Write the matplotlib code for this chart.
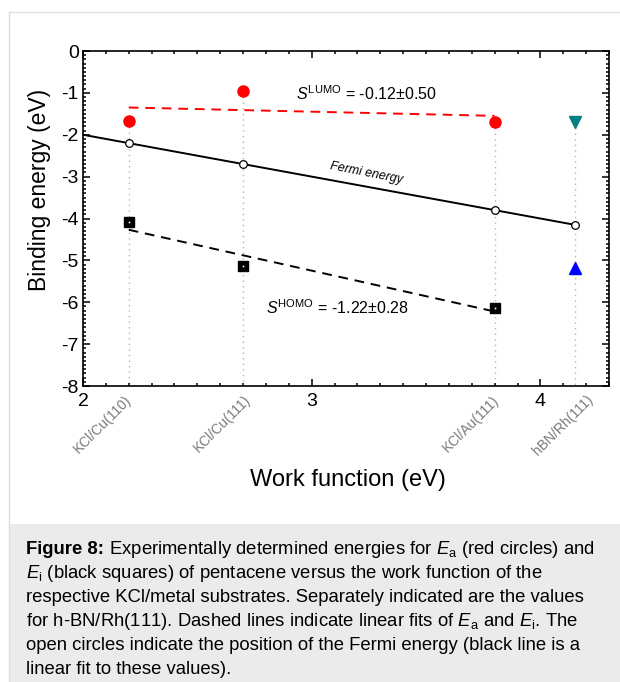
import numpy as np
import matplotlib.pyplot as plt
from matplotlib.patches import Rectangle
from matplotlib.lines import Line2D
from matplotlib.ticker import MultipleLocator
import matplotlib.transforms as mtransforms

plt.rcParams['font.family'] = ['Liberation Sans', 'DejaVu Sans']
plt.rcParams['mathtext.fontset'] = 'custom'
plt.rcParams['mathtext.rm'] = 'Liberation Sans'
plt.rcParams['mathtext.it'] = 'Liberation Sans:italic'
plt.rcParams['mathtext.bf'] = 'Liberation Sans:bold'
plt.rcParams['axes.unicode_minus'] = False

# substrates and their work functions (eV)
substrates = ["KCl/Cu(110)", "KCl/Cu(111)", "KCl/Au(111)", "hBN/Rh(111)"]
work_function = [2.20, 2.70, 3.80, 4.15]
fermi = [-2.20, -2.70, -3.80, -4.15]

# pentacene on KCl/metal
kcl_wf = [2.20, 2.70, 3.80]
e_a = [-1.66, -0.96, -1.69]
e_i = [-4.09, -5.14, -6.14]

# h-BN/Rh(111)
hbn_wf = [4.15]
hbn_ea = [-1.70]
hbn_ei = [-5.19]

caption_head = "Figure 8:"
caption = [
    r" Experimentally determined energies for $E_\mathrm{a}$ (red circles) and",
    r"$E_\mathrm{i}$ (black squares) of pentacene versus the work function of the",
    r"respective KCl/metal substrates. Separately indicated are the values",
    r"for h-BN/Rh(111). Dashed lines indicate linear fits of $E_\mathrm{a}$ and $E_\mathrm{i}$. The",
    r"open circles indicate the position of the Fermi energy (black line is a",
    r"linear fit to these values).",
]

W, H = 620, 682
fig = plt.figure(figsize=(6.2, 6.82), dpi=100)
ax = fig.add_axes([83 / W, 1 - 386 / H, (609 - 83) / W, (386 - 51) / H])

# frame / caption box
fig.add_artist(Line2D([8.5 / W, 8.5 / W], [0, 1 - 12 / H], color='#dddddd', lw=1))
fig.add_artist(Line2D([8.5 / W, 1], [1 - 12 / H, 1 - 12 / H], color='#dddddd', lw=1))
fig.add_artist(Rectangle((9 / W, 0), 1, (H - 524) / H, facecolor='#ebebeb',
                         edgecolor='none', zorder=-1))

# dotted guides from the top marker down to the axis
tops = [max(a, f) for a, f in zip(e_a, fermi[:3])] + [hbn_ea[0]]
for x, t in zip(work_function, tops):
    ax.plot([x, x], [t, -8], ls=(0, (1, 3)), color='#b5b5b5', lw=1, zorder=1)

# fits
xf = np.array([kcl_wf[0], kcl_wf[-1]])
pa = np.polyfit(kcl_wf, e_a, 1)
pi = np.polyfit(kcl_wf, e_i, 1)
pf = np.polyfit(work_function, fermi, 1)
ax.plot(xf, np.polyval(pa, xf), ls=(0, (5, 3.5)), color='#ff0000', lw=1.4, zorder=2)
ax.plot(xf, np.polyval(pi, xf), ls=(0, (5, 3.5)), color='black', lw=1.4, zorder=2)
xfe = np.array([2.0, work_function[-1]])
ax.plot(xfe, np.polyval(pf, xfe), color='black', lw=1.4, zorder=2)

ax.plot(kcl_wf, e_a, 'o', ms=8, color='#ff0000', mec='#ff0000', zorder=3)
ax.plot(kcl_wf, e_i, 's', ms=6.5, color='black', zorder=3)
ax.plot(kcl_wf, e_i, 's', ms=1.2, color='white', mew=0, zorder=4)
ax.plot(work_function, fermi, 'o', ms=5.5, mfc='white', mec='black', mew=0.9, zorder=3)
ax.plot(hbn_wf, hbn_ea, 'v', ms=8, color='#008080', zorder=3)
ax.plot(hbn_wf, hbn_ei, '^', ms=8, color='#0000ff', zorder=3)

ax.text(2.93, -1.18, r"$S^{\mathrm{LUMO}}$ = -0.12$\pm$0.50", fontsize=11.5, va='baseline')
ax.text(2.80, -6.28, r"$S^{\mathrm{HOMO}}$ = -1.22$\pm$0.28", fontsize=11.5, va='baseline')
ax.text(3.24, -2.92, "Fermi energy", fontsize=9, style='italic', rotation=-11,
        ha='center', va='center')

ax.set_xlim(2, 4.3)
ax.set_ylim(-8, 0)
ax.xaxis.set_major_locator(MultipleLocator(1))
ax.xaxis.set_minor_locator(MultipleLocator(0.1))
ax.yaxis.set_major_locator(MultipleLocator(1))
ax.yaxis.set_minor_locator(MultipleLocator(0.1))
ax.tick_params(which='both', direction='in', top=True, right=True, width=1.1)
ax.tick_params(which='major', length=5, labelsize=14)
ax.tick_params(which='minor', length=2.5)
ax.tick_params(axis='x', pad=5)
ax.tick_params(axis='y', pad=3)
for s in ax.spines.values():
    s.set_linewidth(1.2)

# substrate labels under the axis
label_shift = [0.025, 0.045, 0.03, 0.09]
trans = mtransforms.blended_transform_factory(ax.transData, ax.transAxes)
for x, dx, name in zip(work_function, label_shift, substrates):
    ax.text(x + dx, -0.02, name, transform=trans, rotation=45, ha='right', va='top',
            fontsize=10, color='#7a7a7a')

fig.text(40 / W, 1 - 190 / H, "Binding energy (eV)", rotation=90, fontsize=16.5,
         ha='center', va='center')
fig.text(348 / W, 1 - 480 / H, "Work function (eV)", fontsize=17, ha='center', va='center')

# caption: bold head, then the rest of the first line right after it
head = fig.text(26 / W, 1 - 554 / H, caption_head, fontsize=13.3, fontweight='bold',
                va='baseline')
fig.canvas.draw()
bb = head.get_window_extent()
for i, line in enumerate(caption):
    x0 = bb.x1 / W if i == 0 else 26 / W
    fig.text(x0, 1 - (554 + 24 * i) / H, line, fontsize=13.3, va='baseline')

fig.savefig("out.png", dpi=100)
